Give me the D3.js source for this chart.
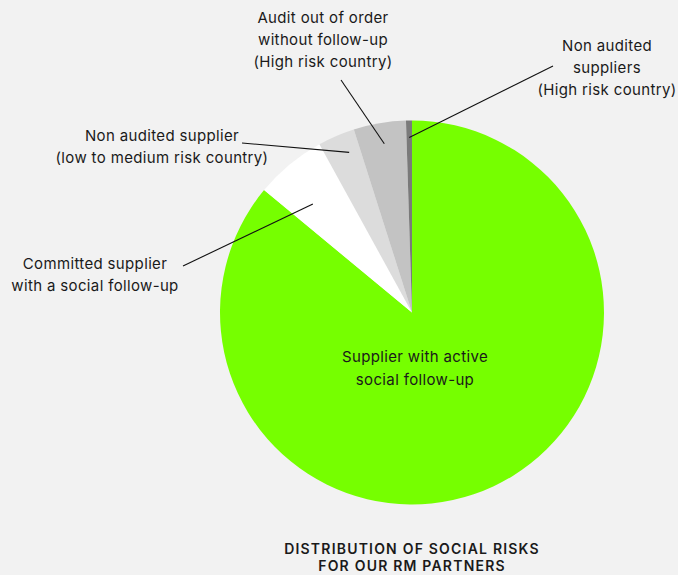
<!DOCTYPE html>
<html>
<head>
<meta charset="utf-8">
<script src="https://cdn.jsdelivr.net/npm/d3@7"></script>
<style>
  html, body { margin: 0; padding: 0; background: #f2f2f2; }
  svg { display: block; }
  text { font-family: Inter, "Liberation Sans", Arial, sans-serif; fill: #1a1a1a; }
</style>
</head>
<body>
<svg id="chart" width="678" height="575"></svg>
<script>
// Share of raw-material partners by social-risk status (percent)
const categories = [
  "Supplier with active social follow-up",
  "Committed supplier with a social follow-up",
  "Non audited supplier (low to medium risk country)",
  "Audit out of order without follow-up (High risk country)",
  "Non audited suppliers (High risk country)"
];
const values = [86, 6, 3.1, 4.4, 0.5];
const sliceColors = ["#76ff00", "#ffffff", "#dcdcdc", "#c3c3c3", "#7a7a7a"];

const labelLines = [
  ["Supplier with active", "social follow-up"],
  ["Committed supplier", "with a social follow-up"],
  ["Non audited supplier", "(low to medium risk country)"],
  ["Audit out of order", "without follow-up", "(High risk country)"],
  ["Non audited", "suppliers", "(High risk country)"]
];
const titleLines = ["DISTRIBUTION OF SOCIAL RISKS", "FOR OUR RM PARTNERS"];

const svg = d3.select("#chart");
const W = 678, H = 575;
const cx = 412, cy = 312.5, R = 192;

svg.append("rect").attr("width", W).attr("height", H).attr("fill", "#f2f2f2");

const pie = d3.pie().sort(null).value(d => d)(values);
const arc = d3.arc().innerRadius(0).outerRadius(R);

const g = svg.append("g").attr("transform", `translate(${cx},${cy})`);
g.selectAll("path.slice")
  .data(pie)
  .join("path")
  .attr("class", "slice")
  .attr("d", arc)
  .attr("fill", (d, i) => sliceColors[i]);

// Callout layout: where each label sits and where its leader line starts,
// plus the radius / angle nudge for the line's end inside the slice.
const callouts = [
  null, // label drawn inside the big slice
  { tx: 95,  ty: 264, lx: 183, ly: 266, r: 147, da: -2.8 },
  { tx: 162, ty: 136, lx: 242, ly: 143, r: 172, da: 1.8 },
  { tx: 323, ty: 18,  lx: 341, ly: 80,  r: 171, da: 0.4 },
  { tx: 607, ty: 46,  lx: 553, ly: 66,  r: 175, da: 0 }
];

function polar(angle, r) {
  return [cx + r * Math.sin(angle), cy - r * Math.cos(angle)];
}

const labelSize = 15;
const labelSpacing = 0.35;

pie.forEach((d, i) => {
  const c = callouts[i];
  if (!c) return;
  const mid = (d.startAngle + d.endAngle) / 2 + c.da * Math.PI / 180;
  const [ex, ey] = polar(mid, c.r);
  svg.append("line")
    .attr("x1", c.lx).attr("y1", c.ly)
    .attr("x2", ex).attr("y2", ey)
    .attr("stroke", "#111").attr("stroke-width", 1.1);
  const t = svg.append("text")
    .attr("text-anchor", "middle")
    .attr("font-size", labelSize)
    .attr("letter-spacing", labelSpacing);
  labelLines[i].forEach((s, k) => {
    t.append("tspan").attr("x", c.tx).attr("y", c.ty + 5 + k * 22).text(s);
  });
});

// Label for the dominant slice, placed below the centre
const big = svg.append("text")
  .attr("text-anchor", "middle")
  .attr("font-size", labelSize)
  .attr("letter-spacing", labelSpacing);
labelLines[0].forEach((s, k) => {
  big.append("tspan").attr("x", 415).attr("y", 362 + k * 23).text(s);
});

// Chart title
const title = svg.append("text")
  .attr("text-anchor", "middle")
  .attr("font-size", 14)
  .attr("font-weight", 600)
  .attr("letter-spacing", 1.2);
titleLines.forEach((s, k) => {
  title.append("tspan").attr("x", 412).attr("y", 554 + k * 17).text(s);
});
</script>
</body>
</html>
